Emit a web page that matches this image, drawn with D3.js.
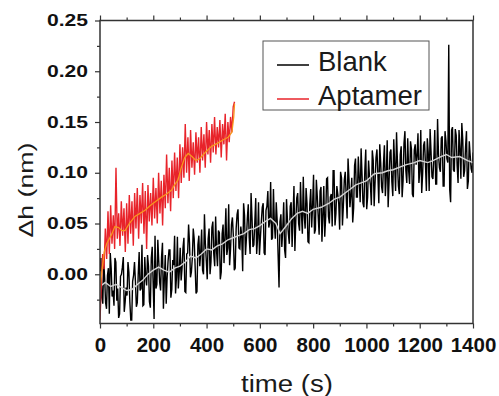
<!DOCTYPE html>
<html>
<head>
<meta charset="utf-8">
<script src="https://cdn.jsdelivr.net/npm/d3@7"></script>
<style>
  html, body { margin: 0; padding: 0; background: #fff; }
  svg { display: block; font-family: "Liberation Sans", Arial, sans-serif; }
</style>
</head>
<body>
<div id="chart"></div>
<script>
// sampling steps (s) of the two raw traces
const blankStep = 7;
const aptamerStep = 5;

// Blank raw trace, values at 0, 7, 14 ... 1400 s
const blankValues = [
  0.003, -0.023, 0.013, -0.028, -0.001, -0.039, 0.006, -0.016, 0.016, -0.026,
  -0.043, -0.002, 0.007, -0.037, -0.013, 0.012, -0.027, -0.045, -0.001, -0.007,
  -0.028, 0.022, -0.014, -0.031, 0.017, -0.011, 0.008, -0.033, 0.027, -0.044,
  -0.014, 0.034, -0.008, 0.017, -0.034, 0.019, -0.003, 0.024, -0.023, 0.014,
  0.038, -0.003, -0.014, 0.026, 0.006, 0.036, -0.018, 0.021, 0.031, 0.002,
  0.045, 0.008, -0.017, 0.038, 0.022, 0.004, 0.059, 0.013, 0.035, 0.000,
  0.046, 0.020, 0.057, 0.008, 0.041, 0.002, 0.049, 0.037, 0.019, 0.069,
  0.025, 0.056, 0.004, 0.045, 0.064, 0.025, 0.037, 0.070, 0.019, 0.055,
  0.036, 0.080, 0.027, 0.051, 0.020, 0.071, 0.036, 0.066, 0.021, 0.063,
  0.082, 0.051, 0.034, 0.084, 0.035, 0.053, -0.013, 0.059, 0.045, 0.024,
  0.074, 0.040, 0.067, 0.027, 0.087, 0.053, 0.080, 0.043, 0.060, 0.096,
  0.045, 0.070, 0.031, 0.084, 0.068, 0.040, 0.093, 0.057, 0.082, 0.032,
  0.087, 0.056, 0.095, 0.050, 0.079, 0.102, 0.048, 0.087, 0.070, 0.101,
  0.048, 0.093, 0.077, 0.114, 0.066, 0.095, 0.065, 0.114, 0.076, 0.095,
  0.124, 0.070, 0.103, 0.064, 0.112, 0.088, 0.122, 0.067, 0.115, 0.098,
  0.128, 0.086, 0.109, 0.077, 0.132, 0.092, 0.123, 0.077, 0.108, 0.140,
  0.087, 0.118, 0.076, 0.129, 0.102, 0.134, 0.089, 0.123, 0.076, 0.128,
  0.117, 0.090, 0.142, 0.099, 0.131, 0.082, 0.120, 0.143, 0.096, 0.114,
  0.089, 0.153, 0.105, 0.134, 0.087, 0.141, 0.114, 0.226, 0.071, 0.145,
  0.101, 0.137, 0.090, 0.124, 0.149, 0.096, 0.125, 0.084, 0.131, 0.104,
  0.120
];

// Blank raw trace, values in between: 3.5, 10.5 ... 1396.5 s
const blankMidValues = [
  0.016, -0.029, -0.004, -0.034, 0.006, 0.021, -0.022, -0.031, 0.012, -0.014,
  -0.039, 0.000, 0.017, -0.027, -0.021, 0.002, -0.045, -0.007, 0.012, -0.032,
  0.000, -0.016, 0.029, -0.030, -0.003, 0.019, -0.027, 0.016, -0.009, 0.038,
  -0.010, 0.013, -0.016, 0.031, -0.005, -0.029, 0.013, 0.024, -0.015, 0.009,
  -0.019, 0.037, 0.002, -0.006, 0.026, -0.017, 0.020, 0.049, -0.003, 0.016,
  0.035, -0.019, 0.029, 0.008, 0.044, 0.000, 0.030, -0.005, 0.045, 0.012,
  0.052, 0.008, 0.023, 0.043, -0.005, 0.040, 0.011, 0.065, 0.026, 0.009,
  0.049, 0.038, 0.006, 0.059, 0.026, 0.047, 0.003, 0.058, 0.035, 0.069,
  0.020, 0.056, 0.029, 0.075, 0.036, 0.019, 0.052, 0.070, 0.019, 0.067,
  0.046, 0.091, 0.036, 0.050, 0.071, 0.019, 0.052, 0.027, 0.071, 0.016,
  0.054, 0.030, 0.071, 0.057, 0.023, 0.075, 0.050, 0.091, 0.040, 0.058,
  0.085, 0.032, 0.069, 0.046, 0.098, 0.044, 0.077, 0.039, 0.086, 0.058,
  0.037, 0.094, 0.057, 0.076, 0.047, 0.102, 0.060, 0.079, 0.044, 0.095,
  0.068, 0.101, 0.055, 0.094, 0.078, 0.051, 0.107, 0.076, 0.116, 0.071,
  0.098, 0.066, 0.123, 0.076, 0.096, 0.068, 0.112, 0.091, 0.123, 0.070,
  0.110, 0.080, 0.127, 0.097, 0.066, 0.120, 0.091, 0.133, 0.082, 0.110,
  0.079, 0.126, 0.092, 0.141, 0.090, 0.102, 0.131, 0.079, 0.122, 0.108,
  0.139, 0.102, 0.080, 0.127, 0.109, 0.134, 0.082, 0.121, 0.094, 0.142,
  0.089, 0.118, 0.101, 0.136, 0.087, 0.131, 0.110, 0.084, 0.142, 0.103,
  0.143, 0.107, 0.142, 0.094, 0.133, 0.102, 0.141, 0.092, 0.117, 0.100
];

// Aptamer raw trace, one value every 5 s from 0 to 505 s
const aptamerValues = [
  -0.045, -0.010, 0.020, 0.005, 0.045, 0.015, 0.062, 0.020, 0.068, 0.030,
  0.058, 0.025, 0.105, 0.035, 0.060, 0.028, 0.072, 0.038, 0.065, 0.022,
  0.070, 0.030, 0.078, 0.040, 0.072, 0.028, 0.080, 0.045, 0.085, 0.035,
  0.078, 0.050, 0.090, 0.040, 0.082, 0.025, 0.088, 0.052, 0.080, 0.048,
  0.095, 0.055, 0.085, 0.050, 0.100, 0.060, 0.092, 0.048, 0.098, 0.065,
  0.118, 0.070, 0.105, 0.062, 0.112, 0.075, 0.120, 0.082, 0.115, 0.075,
  0.128, 0.090, 0.125, 0.095, 0.148, 0.100, 0.135, 0.092, 0.142, 0.105,
  0.130, 0.098, 0.140, 0.110, 0.135, 0.100, 0.145, 0.112, 0.138, 0.105,
  0.150, 0.118, 0.142, 0.110, 0.148, 0.120, 0.155, 0.118, 0.145, 0.125,
  0.152, 0.115, 0.148, 0.128, 0.158, 0.112, 0.150, 0.130, 0.155, 0.140,
  0.165, 0.170
];

// smoothed curves
const blankSmoothT = [0, 20, 40, 60, 80, 100, 120, 140, 160, 180, 200, 220, 240, 260, 280, 300, 320, 340, 360, 380,
  400, 420, 440, 460, 480, 500, 520, 540, 560, 580, 600, 620, 640, 660, 676, 700, 720, 740, 760, 780,
  800, 830, 860, 880, 900, 920, 940, 960, 980, 1000, 1030, 1060, 1080, 1100, 1130, 1150, 1180, 1200, 1230, 1250,
  1280, 1300, 1320, 1350, 1380, 1400];
const blankSmoothV = [-0.012, -0.008, -0.012, -0.010, -0.013, -0.016, -0.015, -0.010, -0.006, 0.000, 0.004, 0.007, 0.004, 0.002, 0.006, 0.008, 0.012, 0.018, 0.016, 0.020,
  0.025, 0.024, 0.028, 0.030, 0.034, 0.036, 0.038, 0.040, 0.044, 0.045, 0.048, 0.052, 0.055, 0.050, 0.040, 0.048, 0.055, 0.060, 0.062, 0.060,
  0.064, 0.066, 0.070, 0.074, 0.076, 0.080, 0.084, 0.088, 0.090, 0.092, 0.099, 0.100, 0.102, 0.103, 0.106, 0.108, 0.110, 0.112, 0.110, 0.112,
  0.116, 0.118, 0.115, 0.116, 0.112, 0.110];

const aptamerSmoothT = [0, 8, 16, 25, 35, 45, 56, 70, 82, 94, 110, 131, 150, 169, 190, 210, 231, 250, 269, 280,
  293, 305, 318, 331, 345, 360, 375, 395, 419, 440, 460, 481, 495, 502, 505];
const aptamerSmoothV = [-0.014, 0.005, 0.022, 0.030, 0.035, 0.040, 0.047, 0.046, 0.043, 0.043, 0.050, 0.057, 0.060, 0.063, 0.068, 0.072, 0.076, 0.079, 0.083, 0.088,
  0.093, 0.105, 0.115, 0.119, 0.116, 0.112, 0.114, 0.120, 0.126, 0.129, 0.132, 0.135, 0.140, 0.155, 0.168];

const xTicks = [0, 200, 400, 600, 800, 1000, 1200, 1400];
const xMinor = [100, 300, 500, 700, 900, 1100, 1300];
const yTicks = [0.00, 0.05, 0.10, 0.15, 0.20, 0.25];
const yMinor = [-0.025, 0.025, 0.075, 0.125, 0.175, 0.225];

const legendItems = ['Blank', 'Aptamer'];
const legendColors = ['#000000', '#e8232a'];

const width = 499, height = 396;
const plot = { left: 100, right: 473, top: 20.5, bottom: 323.5 };
const axisColor = '#333';

const svg = d3.select('#chart').append('svg')
  .attr('width', width)
  .attr('height', height);

const x = d3.scaleLinear().domain([0, 1400]).range([plot.left, plot.right]);
const y = d3.scaleLinear().domain([-0.0485, 0.25]).range([plot.bottom, plot.top]);

svg.append('defs').append('clipPath').attr('id', 'clip')
  .append('rect')
  .attr('x', plot.left).attr('y', plot.top)
  .attr('width', plot.right - plot.left).attr('height', plot.bottom - plot.top);

// interleave the two blank sample sets into one time-ordered trace
const blank = [];
blankValues.forEach((v, i) => {
  blank.push({ t: i * blankStep, v });
  if (i < blankMidValues.length) blank.push({ t: i * blankStep + blankStep / 2, v: blankMidValues[i] });
});
const aptamer = aptamerValues.map((v, i) => ({ t: i * aptamerStep, v }));
const blankSmooth = blankSmoothT.map((t, i) => ({ t, v: blankSmoothV[i] }));
const aptamerSmooth = aptamerSmoothT.map((t, i) => ({ t, v: aptamerSmoothV[i] }));

const line = d3.line().x(d => x(d.t)).y(d => y(d.v));

const g = svg.append('g').attr('clip-path', 'url(#clip)');

g.append('path').datum(blank)
  .attr('d', line).attr('fill', 'none')
  .attr('stroke', '#000').attr('stroke-width', 1.4);

g.append('path').datum(blankSmooth)
  .attr('d', line).attr('fill', 'none')
  .attr('stroke', '#d4d4d4').attr('stroke-width', 1.4);

g.append('path').datum(aptamer)
  .attr('d', line).attr('fill', 'none')
  .attr('stroke', '#e8232a').attr('stroke-width', 1.4);

g.append('path').datum(aptamerSmooth)
  .attr('d', line).attr('fill', 'none')
  .attr('stroke', '#f7961e').attr('stroke-width', 1.3);

// axes: major + minor ticks, bottom/top/left
function styleAxis(sel) {
  sel.select('.domain').remove();
  sel.selectAll('line').attr('stroke', axisColor).attr('stroke-width', 1.2);
}

svg.append('g').attr('transform', `translate(0,${plot.bottom})`)
  .call(d3.axisBottom(x).tickValues(xTicks).tickSize(5).tickPadding(3).tickFormat(d3.format('d')))
  .call(styleAxis)
  .call(s => s.selectAll('text')
    .attr('fill', '#111')
    .attr('font-size', '20.5px')
    .attr('font-weight', 'bold')
    .attr('font-family', '"Liberation Sans", Arial, sans-serif')
    .attr('dy', null).attr('y', 28));

svg.append('g').attr('transform', `translate(0,${plot.bottom})`)
  .call(d3.axisBottom(x).tickValues(xMinor).tickSize(3).tickFormat(''))
  .call(styleAxis);

svg.append('g').attr('transform', `translate(0,${plot.top})`)
  .call(d3.axisTop(x).tickValues(xTicks).tickSize(5).tickFormat(''))
  .call(styleAxis);

svg.append('g').attr('transform', `translate(0,${plot.top})`)
  .call(d3.axisTop(x).tickValues(xMinor).tickSize(3).tickFormat(''))
  .call(styleAxis);

svg.append('g').attr('transform', `translate(${plot.left},0)`)
  .call(d3.axisLeft(y).tickValues(yTicks).tickSize(5).tickPadding(7).tickFormat(d3.format('.2f')))
  .call(styleAxis)
  .call(s => s.selectAll('text')
    .attr('fill', '#111')
    .attr('font-size', '16px')
    .attr('font-weight', 'bold')
    .attr('font-family', '"Liberation Sans", Arial, sans-serif')
    .attr('textLength', 41)
    .attr('lengthAdjust', 'spacingAndGlyphs'));

svg.append('g').attr('transform', `translate(${plot.left},0)`)
  .call(d3.axisLeft(y).tickValues(yMinor).tickSize(3).tickFormat(''))
  .call(styleAxis);

// frame
svg.append('rect')
  .attr('x', plot.left).attr('y', plot.top)
  .attr('width', plot.right - plot.left).attr('height', plot.bottom - plot.top)
  .attr('fill', 'none').attr('stroke', axisColor).attr('stroke-width', 1.5);

// axis titles
svg.append('text')
  .attr('x', 287).attr('y', 392)
  .attr('text-anchor', 'middle')
  .attr('font-size', '23px')
  .attr('fill', '#1a1a1a')
  .attr('textLength', 92).attr('lengthAdjust', 'spacingAndGlyphs')
  .text('time (s)');

svg.append('text')
  .attr('transform', 'translate(33,190) rotate(-90)')
  .attr('text-anchor', 'middle')
  .attr('font-size', '20px')
  .attr('fill', '#1a1a1a')
  .attr('textLength', 95).attr('lengthAdjust', 'spacingAndGlyphs')
  .text('Δh (nm)');

// legend
const legend = svg.append('g');
legend.append('rect')
  .attr('x', 263).attr('y', 41).attr('width', 166).attr('height', 69)
  .attr('fill', '#fff').attr('stroke', '#555').attr('stroke-width', 1);

legendItems.forEach((name, i) => {
  const yy = 65 + i * 34;
  legend.append('line')
    .attr('x1', 277).attr('x2', 309).attr('y1', yy).attr('y2', yy)
    .attr('stroke', legendColors[i]).attr('stroke-width', 1.5);
  legend.append('text')
    .attr('x', 318).attr('y', yy + 5.5)
    .attr('font-size', '27.5px')
    .attr('fill', '#1a1a1a')
    .text(name);
});
</script>
</body>
</html>
